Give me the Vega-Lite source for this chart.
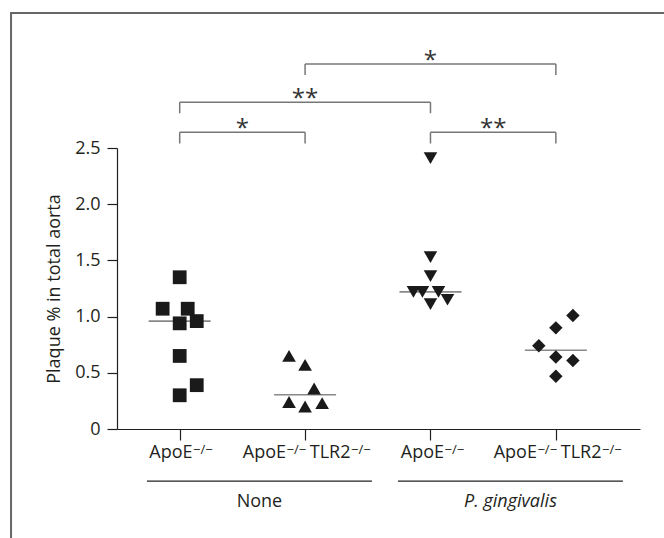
{
  "$schema": "https://vega.github.io/schema/vega-lite/v6.json",
  "width": 523,
  "height": 281,
  "autosize": {"type": "none"},
  "padding": {"left": 117, "top": 148, "right": 24, "bottom": 109},
  "background": "white",
  "config": {"view": {"stroke": null}, "font": "Open Sans"},
  "datasets": {
    "points": [
      {"group": "None ApoE-/-", "x": 1.0, "y": 1.35},
      {"group": "None ApoE-/-", "x": 0.864, "y": 1.07},
      {"group": "None ApoE-/-", "x": 1.064, "y": 1.07},
      {"group": "None ApoE-/-", "x": 1.0, "y": 0.94},
      {"group": "None ApoE-/-", "x": 1.136, "y": 0.96},
      {"group": "None ApoE-/-", "x": 1.0, "y": 0.65},
      {"group": "None ApoE-/-", "x": 1.136, "y": 0.39},
      {"group": "None ApoE-/-", "x": 1.0, "y": 0.30},
      {"group": "None ApoE-/- TLR2-/-", "x": 1.872, "y": 0.65},
      {"group": "None ApoE-/- TLR2-/-", "x": 2.0, "y": 0.57},
      {"group": "None ApoE-/- TLR2-/-", "x": 2.072, "y": 0.36},
      {"group": "None ApoE-/- TLR2-/-", "x": 1.872, "y": 0.24},
      {"group": "None ApoE-/- TLR2-/-", "x": 2.0, "y": 0.20},
      {"group": "None ApoE-/- TLR2-/-", "x": 2.136, "y": 0.23},
      {"group": "P. gingivalis ApoE-/-", "x": 3.0, "y": 2.41},
      {"group": "P. gingivalis ApoE-/-", "x": 3.0, "y": 1.53},
      {"group": "P. gingivalis ApoE-/-", "x": 3.0, "y": 1.36},
      {"group": "P. gingivalis ApoE-/-", "x": 2.864, "y": 1.22},
      {"group": "P. gingivalis ApoE-/-", "x": 2.936, "y": 1.22},
      {"group": "P. gingivalis ApoE-/-", "x": 3.064, "y": 1.22},
      {"group": "P. gingivalis ApoE-/-", "x": 3.0, "y": 1.11},
      {"group": "P. gingivalis ApoE-/-", "x": 3.136, "y": 1.15},
      {"group": "P. gingivalis ApoE-/- TLR2-/-", "x": 4.136, "y": 1.01},
      {"group": "P. gingivalis ApoE-/- TLR2-/-", "x": 4.0, "y": 0.90},
      {"group": "P. gingivalis ApoE-/- TLR2-/-", "x": 3.864, "y": 0.74},
      {"group": "P. gingivalis ApoE-/- TLR2-/-", "x": 4.0, "y": 0.64},
      {"group": "P. gingivalis ApoE-/- TLR2-/-", "x": 4.136, "y": 0.61},
      {"group": "P. gingivalis ApoE-/- TLR2-/-", "x": 4.0, "y": 0.47}
    ],
    "medians": [
      {"x": 1, "y": 0.96},
      {"x": 2, "y": 0.305},
      {"x": 3, "y": 1.22},
      {"x": 4, "y": 0.70}
    ],
    "brackets": [
      {"x": 1, "x2": 2, "y": 2.64, "y2": 2.64},
      {"x": 1, "x2": 1, "y": 2.64, "y2": 2.54},
      {"x": 2, "x2": 2, "y": 2.64, "y2": 2.54},
      {"x": 1, "x2": 3, "y": 2.907, "y2": 2.907},
      {"x": 1, "x2": 1, "y": 2.907, "y2": 2.809},
      {"x": 3, "x2": 3, "y": 2.907, "y2": 2.809},
      {"x": 2, "x2": 4, "y": 3.247, "y2": 3.247},
      {"x": 2, "x2": 2, "y": 3.247, "y2": 3.149},
      {"x": 4, "x2": 4, "y": 3.247, "y2": 3.149},
      {"x": 3, "x2": 4, "y": 2.64, "y2": 2.64},
      {"x": 3, "x2": 3, "y": 2.64, "y2": 2.54},
      {"x": 4, "x2": 4, "y": 2.64, "y2": 2.54}
    ],
    "stars": [
      {"x": 1.5, "y": 2.64, "label": "*"},
      {"x": 2.0, "y": 2.907, "label": "**"},
      {"x": 3.0, "y": 3.247, "label": "*"},
      {"x": 3.5, "y": 2.64, "label": "**"}
    ],
    "labels": [
      {"x": 1.102, "y": -0.258, "label": "ApoE"},
      {"x": 1.848, "y": -0.258, "label": "ApoE"},
      {"x": 2.362, "y": -0.258, "label": "TLR2"},
      {"x": 3.108, "y": -0.258, "label": "ApoE"},
      {"x": 3.849, "y": -0.258, "label": "ApoE"},
      {"x": 4.364, "y": -0.258, "label": "TLR2"}
    ],
    "sups": [
      {"x": 1.102, "y": -0.218, "label": "−/−"},
      {"x": 1.848, "y": -0.218, "label": "−/−"},
      {"x": 2.362, "y": -0.218, "label": "−/−"},
      {"x": 3.108, "y": -0.218, "label": "−/−"},
      {"x": 3.849, "y": -0.218, "label": "−/−"},
      {"x": 4.364, "y": -0.218, "label": "−/−"}
    ],
    "underlines": [
      {"x": 0.739, "x2": 2.533, "y": -0.463, "y2": -0.463},
      {"x": 2.741, "x2": 4.535, "y": -0.463, "y2": -0.463}
    ],
    "groups": [
      {"x": 1.636, "y": -0.694, "label": "None", "italic": false},
      {"x": 3.638, "y": -0.694, "label": "P. gingivalis", "italic": true}
    ],
    "frame": [
      {"x": -0.345, "x2": 5.3, "y": 3.701, "y2": -1.3}
    ]
  },
  "encoding": {
    "x": {
      "field": "x",
      "type": "quantitative",
      "scale": {"domain": [0.5, 4.671], "nice": false, "zero": false},
      "axis": {
        "values": [1, 2, 3, 4],
        "labels": false,
        "title": null,
        "grid": false,
        "tickSize": 11,
        "domainColor": "#231f20",
        "tickColor": "#231f20",
        "domainWidth": 1.2,
        "tickWidth": 1.2
      }
    },
    "y": {
      "field": "y",
      "type": "quantitative",
      "scale": {"domain": [0, 2.5], "nice": false, "zero": true},
      "axis": {
        "values": [0, 0.5, 1, 1.5, 2, 2.5],
        "labelExpr": "datum.value == 0 ? '0' : format(datum.value, '.1f')",
        "title": "Plaque % in total aorta",
        "grid": false,
        "tickSize": 10,
        "labelPadding": 7,
        "labelFontSize": 18,
        "labelColor": "#231f20",
        "titleFontSize": 18,
        "titleFontWeight": "normal",
        "titleColor": "#231f20",
        "titlePadding": 11,
        "domainColor": "#231f20",
        "tickColor": "#231f20",
        "domainWidth": 1.2,
        "tickWidth": 1.2
      }
    }
  },
  "layer": [
    {
      "data": {"name": "frame"},
      "mark": {"type": "rect", "fill": "white", "fillOpacity": 0, "stroke": "#666", "strokeWidth": 2},
      "encoding": {"x2": {"field": "x2"}, "y2": {"field": "y2"}}
    },
    {
      "data": {"name": "medians"},
      "mark": {"type": "tick", "orient": "horizontal", "size": 62, "thickness": 1.6, "color": "#555"}
    },
    {
      "data": {"name": "points"},
      "mark": {"type": "point", "filled": true, "opacity": 1, "color": "#1a1a1a"},
      "encoding": {
        "shape": {
          "field": "group",
          "type": "nominal",
          "scale": {
            "domain": ["None ApoE-/-", "None ApoE-/- TLR2-/-", "P. gingivalis ApoE-/-", "P. gingivalis ApoE-/- TLR2-/-"],
            "range": ["square", "triangle-up", "triangle-down", "diamond"]
          },
          "legend": null
        },
        "size": {
          "field": "group",
          "type": "nominal",
          "scale": {
            "domain": ["None ApoE-/-", "None ApoE-/- TLR2-/-", "P. gingivalis ApoE-/-", "P. gingivalis ApoE-/- TLR2-/-"],
            "range": [190, 180, 180, 220]
          },
          "legend": null
        }
      }
    },
    {
      "data": {"name": "brackets"},
      "mark": {"type": "rule", "color": "#777", "strokeWidth": 1.5},
      "encoding": {"x2": {"field": "x2"}, "y2": {"field": "y2"}}
    },
    {
      "data": {"name": "stars"},
      "mark": {"type": "text", "fontSize": 24, "color": "#333", "baseline": "alphabetic", "align": "center", "dy": 3.5},
      "encoding": {"text": {"field": "label"}}
    },
    {
      "data": {"name": "labels"},
      "mark": {"type": "text", "fontSize": 18, "color": "#231f20", "baseline": "alphabetic", "align": "right"},
      "encoding": {"text": {"field": "label"}}
    },
    {
      "data": {"name": "sups"},
      "mark": {"type": "text", "fontSize": 13, "color": "#231f20", "baseline": "alphabetic", "align": "left", "dx": 0.5},
      "encoding": {"text": {"field": "label"}}
    },
    {
      "data": {"name": "underlines"},
      "mark": {"type": "rule", "color": "#231f20", "strokeWidth": 1.2},
      "encoding": {"x2": {"field": "x2"}, "y2": {"field": "y2"}}
    },
    {
      "data": {"name": "groups"},
      "transform": [{"filter": "!datum.italic"}],
      "mark": {"type": "text", "fontSize": 18, "color": "#231f20", "baseline": "alphabetic", "align": "center"},
      "encoding": {"text": {"field": "label"}}
    },
    {
      "data": {"name": "groups"},
      "transform": [{"filter": "datum.italic"}],
      "mark": {"type": "text", "fontSize": 18, "fontStyle": "italic", "color": "#231f20", "baseline": "alphabetic", "align": "center"},
      "encoding": {"text": {"field": "label"}}
    }
  ]
}
